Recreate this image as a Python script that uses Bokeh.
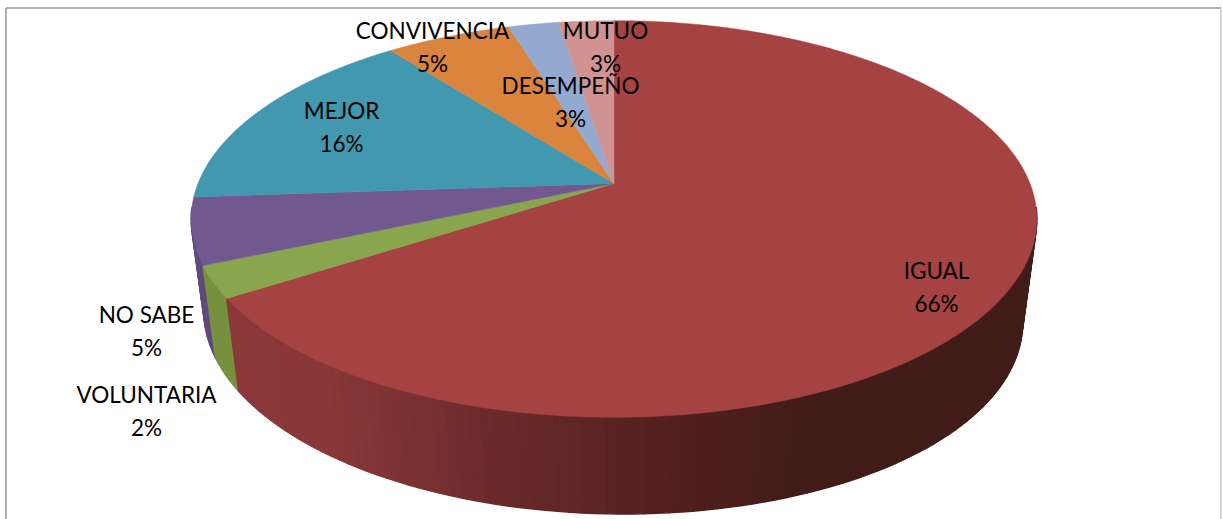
import math
from bokeh.plotting import figure
from bokeh.embed import file_html
from bokeh.resources import INLINE
from bokeh.core.properties import value

categories = ["IGUAL", "VOLUNTARIA", "NO SABE", "MEJOR", "CONVIVENCIA", "DESEMPEÑO", "MUTUO"]
shares = [65.9, 2.6, 5.4, 15.6, 5.7, 2.3, 2.5]
percent_labels = ["66%", "2%", "5%", "16%", "5%", "3%", "3%"]

top_colors = ["#A54342", "#89A54E", "#71588F", "#4198AF", "#DB843D", "#93A9CF", "#D19392"]
wall_colors = ["#8B3838", "#76903F", "#5F4A7A", "#35808F", "#B86E30", "#7C8FAF", "#B07C7B"]
label_x = [936, 146, 146, 341, 432, 570, 605]
label_y = [270, 394, 314, 110, 30, 85, 30]
line_gap = 33

W, H = 1222, 519


def top_pt(frac):
    t = 2 * math.pi * frac
    u, v = math.sin(t), -math.cos(t)
    d = 1 - 0.1788 * v
    return 613.5 + 416 * u / d, 183 + 192 * v / d


def bot_pt(frac):
    x, y = top_pt(frac)
    t = 2 * math.pi * frac
    u, v = math.sin(t), -math.cos(t)
    s = 0.0315 + 0.002 * u + 0.002 * v
    return x + (614 - x) * s, y + (3300 - y) * s


def mix(c1, c2, t):
    return tuple(c1[i] + (c2[i] - c1[i]) * t for i in range(3))


def red_wall(x):
    stops = [(230, (139, 56, 56)), (330, (136, 56, 55)), (500, (106, 42, 42)), (700, (78, 30, 28)), (800, (66, 28, 25))]
    if x <= stops[0][0]:
        c = stops[0][1]
    elif x >= stops[-1][0]:
        c = stops[-1][1]
    else:
        for (x1, c1), (x2, c2) in zip(stops, stops[1:]):
            if x1 <= x <= x2:
                c = mix(c1, c2, (x - x1) / (x2 - x1))
                break
    return "#%02x%02x%02x" % tuple(int(round(i)) for i in c)


p = figure(width=W, height=H, x_range=(0, W), y_range=(H, 0),
           output_backend="svg", toolbar_location=None, min_border=0,
           outline_line_color=None)
p.axis.visible = False
p.grid.visible = False
p.background_fill_color = "white"
p.border_fill_color = "white"

# frame
p.line([5.5, 5.5], [519, 7.5], line_color="#969696", line_width=1.5)
p.line([5.5, 1220.5], [7.5, 7.5], line_color="#969696", line_width=1.5)
p.line([1220.5, 1220.5], [7.5, 519], line_color="#C8C8C8", line_width=1.5)

total = sum(shares)
starts = []
acc = 0.0
for s in shares:
    starts.append(acc / total)
    acc += s
ends = starts[1:] + [1.0]

# outer walls: only the part facing the viewer, back to front
wx, wy, wc = [], [], []
STEP = 0.004
for i in range(len(shares)):
    f0, f1 = starts[i], ends[i]
    n = max(1, int((f1 - f0) / STEP))
    for j in range(n):
        a0 = f0 + (f1 - f0) * j / n
        a1 = f0 + (f1 - f0) * (j + 1) / n
        if -math.cos(2 * math.pi * (a0 + a1) / 2) < 0.12:
            continue
        t0, t1, b0, b1 = top_pt(a0), top_pt(a1), bot_pt(a0), bot_pt(a1)
        xs = [t0[0], t1[0], b1[0], b0[0]]
        ys = [t0[1], t1[1], b1[1], b0[1]]
        wx.append(xs)
        wy.append(ys)
        wc.append(red_wall(sum(xs) / 4) if i == 0 else wall_colors[i])
order = sorted(range(len(wx)), key=lambda q: sum(wy[q]))
p.patches([wx[q] for q in order], [wy[q] for q in order],
          fill_color=[wc[q] for q in order], line_color=[wc[q] for q in order], line_width=1.5)

# top faces
apex = (613.5, 183.0)
fx, fy = [], []
for i in range(len(shares)):
    f0, f1 = starts[i], ends[i]
    n = max(2, int((f1 - f0) * 720))
    pts = [top_pt(f0 + (f1 - f0) * j / n) for j in range(n + 1)]
    fx.append([apex[0]] + [q[0] for q in pts])
    fy.append([apex[1]] + [q[1] for q in pts])
p.patches(fx, fy, fill_color=top_colors, line_color=top_colors, line_width=0.5)

# labels
tx = label_x + label_x
ty = label_y + [y + line_gap for y in label_y]
tt = categories + percent_labels
p.text(tx, ty, text=tt, text_font=value("Lato"), text_font_size="22.5px",
       text_color="#000000", text_align="center", text_baseline="middle")

open("out.html", "w").write(file_html(p, INLINE))
